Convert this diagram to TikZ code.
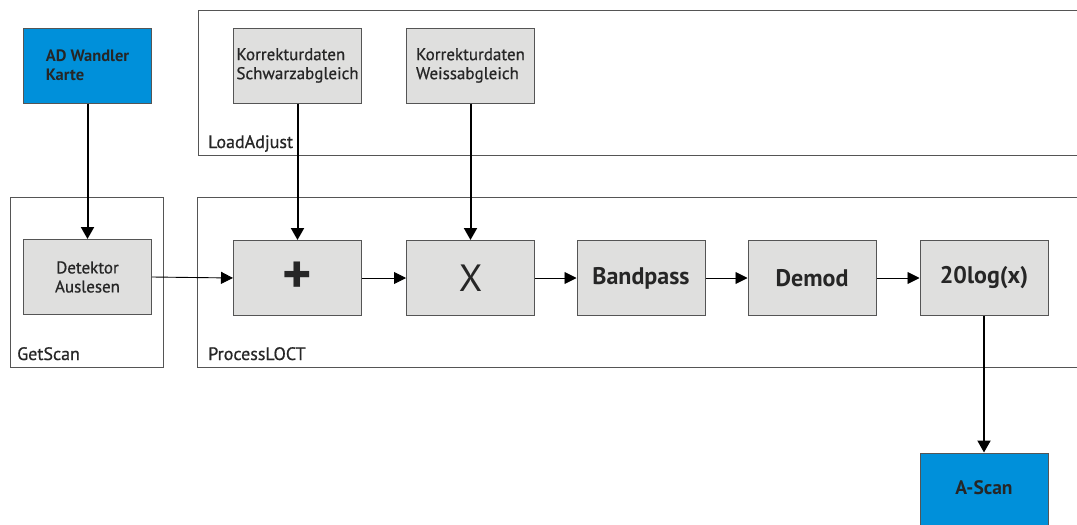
\documentclass[tikz,border=0pt]{standalone}
\usepackage{fontspec}
\setmainfont{PT Sans}
\newfontfamily\medfont[FakeBold=0.7]{PT Sans}
\usetikzlibrary{arrows.meta}
\definecolor{boxgray}{HTML}{DFDFDE}
\definecolor{adblue}{HTML}{0090DA}
\definecolor{framegray}{HTML}{555555}
\tikzset{
  box/.style={draw=framegray, line width=1pt, fill=boxgray, minimum width=128pt, minimum height=75pt, inner sep=0pt, align=left, text=black!85, font=\fontsize{17}{19}\medfont},
  bluebox/.style={box, fill=adblue, font=\fontsize{16.5}{19}\selectfont\bfseries},
  bigbox/.style={box, align=center, font=\fontsize{24}{26}\selectfont\bfseries},
  frame/.style={draw=framegray, line width=1pt},
  framelabel/.style={anchor=base west, inner sep=0pt, text=black!85, font=\fontsize{18}{20}\medfont},
  thinarrow/.style={line width=0.9pt, -{Triangle[length=12pt,width=12pt]}},
  thickarrow/.style={line width=2pt, -{Triangle[length=12pt,width=13pt]}},
}
\begin{document}
\begin{tikzpicture}[x=1pt,y=-1pt]
\useasboundingbox (0,0) rectangle (1077,525);
% containers
\draw[frame] (1090,10) -- (198,10) -- (198,155) -- (1090,155);
\node[framelabel] (la) at (208,148) {LoadAdjust};
\draw[frame] (10,197) rectangle (163,367);
\node[framelabel] (gs) at (17,360) {GetScan};
\draw[frame] (1090,197) -- (197,197) -- (197,367) -- (1090,367);
\node[framelabel] (pl) at (208,360) {ProcessLOCT};
% top boxes
\node[bluebox] (ad) at (87.5,65.5) {AD Wandler\\Karte};
\node[box] (ks) at (297.5,65.5) {Korrekturdaten\\Schwarzabgleich};
\node[box] (kw) at (470.5,65.5) {Korrekturdaten\\Weissabgleich};
% row
\node[box, align=center] (det) at (87.5,277) {Detektor\\Auslesen};
\node[box, font=\fontsize{56}{56}\selectfont\bfseries] (plus) at (297.5,278) {+};
\node[box, font=\fontsize{38}{38}\selectfont] (mul) at (470.5,278) {X};
\node[bigbox] (bp) at (641,278) {Bandpass};
\node[bigbox] (dm) at (812,278) {Demod};
\node[bigbox] (lg) at (984,278) {20log(x)};
\fill[adblue, draw=framegray, line width=1pt] (920,453) rectangle (1048,540);
\node[box, draw=none, fill=none, minimum height=70pt, font=\fontsize{19.5}{21}\selectfont\bfseries] (as) at (984,488) {A-Scan};
% connectors
\draw[thickarrow] (ad.south) -- (det.north);
\draw[thickarrow] (ks.south) -- (plus.north);
\draw[thickarrow] (kw.south) -- (mul.north);
\draw[thinarrow] (det.east) -- (plus.west);
\draw[thinarrow] (plus.east) -- (mul.west);
\draw[thinarrow] (mul.east) -- (bp.west);
\draw[thinarrow] (bp.east) -- (dm.west);
\draw[thinarrow] (dm.east) -- (lg.west);
\draw[thickarrow] (lg.south) -- (as.north);
\end{tikzpicture}
\end{document}
